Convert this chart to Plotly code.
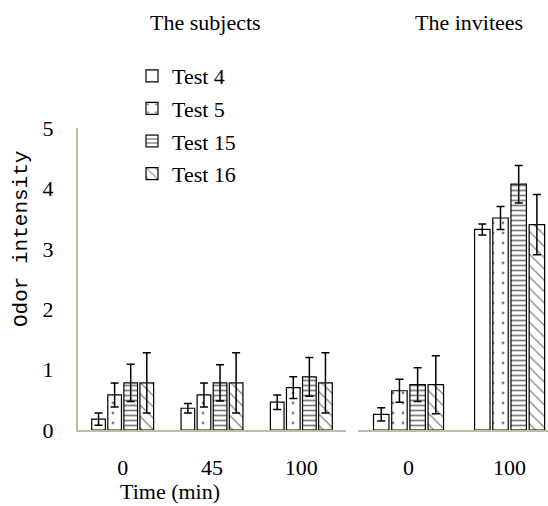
import plotly.graph_objects as go

tests = ["Test 4", "Test 5", "Test 15", "Test 16"]
left_times = ["0", "45", "100"]
right_times = ["0", "100"]

# mean values (left panel: the subjects)
left_vals = {
    "Test 4": [0.18, 0.36, 0.46],
    "Test 5": [0.58, 0.58, 0.70],
    "Test 15": [0.78, 0.78, 0.88],
    "Test 16": [0.78, 0.78, 0.78],
}
left_err = {
    "Test 4": [0.10, 0.08, 0.12],
    "Test 5": [0.20, 0.20, 0.18],
    "Test 15": [0.31, 0.30, 0.32],
    "Test 16": [0.50, 0.50, 0.50],
}
# right panel: the invitees
right_vals = {
    "Test 4": [0.26, 3.32],
    "Test 5": [0.65, 3.51],
    "Test 15": [0.75, 4.07],
    "Test 16": [0.75, 3.40],
}
right_err = {
    "Test 4": [0.11, 0.09],
    "Test 5": [0.19, 0.19],
    "Test 15": [0.28, 0.31],
    "Test 16": [0.48, 0.50],
}
y_ticks = [0, 1, 2, 3, 4, 5]

patterns = {
    "Test 4": dict(shape=""),
    "Test 5": dict(shape=".", size=10, solidity=0.06, fgcolor="black", bgcolor="white"),
    "Test 15": dict(shape="-", size=5, solidity=0.35, fgcolor="black", bgcolor="white"),
    "Test 16": dict(shape="\\", size=8, solidity=0.15, fgcolor="black", bgcolor="white"),
}

SERIF = "Liberation Serif"
FS = 22
AX = "#c2bc9c"

fig = go.Figure()
for t in tests:
    fig.add_trace(go.Bar(
        x=left_times, y=left_vals[t], name=t, xaxis="x", yaxis="y",
        marker=dict(color="white", line=dict(color="black", width=1.2), pattern=patterns[t]),
        error_y=dict(type="data", array=left_err[t], color="black", thickness=1.5, width=4),
        legendgroup=t, showlegend=True,
    ))
for t in tests:
    fig.add_trace(go.Bar(
        x=right_times, y=right_vals[t], name=t, xaxis="x2", yaxis="y2",
        marker=dict(color="white", line=dict(color="black", width=1.2), pattern=patterns[t]),
        error_y=dict(type="data", array=right_err[t], color="black", thickness=1.5, width=4),
        legendgroup=t, showlegend=False,
    ))

W, H = 548, 506
L, R, T, B = 78, 0, 128, 76
pw = W - L - R
ph = H - T - B

def px(x):
    return (x - L) / pw

def py(y):
    return 1 - (y - T) / ph

fig.update_layout(
    width=W, height=H,
    margin=dict(l=L, r=R, t=T, b=B),
    paper_bgcolor="white", plot_bgcolor="white",
    barmode="group", bargap=0.28, bargroupgap=0.15,
    font=dict(family=SERIF, size=FS, color="black"),
    showlegend=True,
    legend=dict(x=px(132), y=py(55), xanchor="left", yanchor="top",
                bgcolor="rgba(0,0,0,0)", font=dict(family=SERIF, size=FS),
                tracegroupgap=1, itemwidth=30),
    xaxis=dict(domain=[0, px(346)], type="category", range=[-0.5, 2.5],
               showline=True, linecolor=AX, linewidth=2, ticks="", showgrid=False,
               ticklabelstandoff=17, tickfont=dict(family=SERIF, size=FS),
               zeroline=False),
    yaxis=dict(range=[0, 5], tickvals=y_ticks, showline=True, linecolor=AX, linewidth=2,
               ticks="", showgrid=False, zeroline=False, ticklabelstandoff=18,
               tickfont=dict(family=SERIF, size=FS)),
    xaxis2=dict(domain=[px(358), 1], type="category", range=[-0.5, 1.38], anchor="y2",
                showline=True, linecolor=AX, linewidth=2, ticks="", showgrid=False,
                ticklabelstandoff=17, tickfont=dict(family=SERIF, size=FS), zeroline=False),
    yaxis2=dict(range=[0, 5], anchor="x2", showline=False, showticklabels=False,
                ticks="", showgrid=False, zeroline=False),
)

def note(text, x, y, **kw):
    fig.add_annotation(text=text, x=px(x), y=py(y), xref="paper", yref="paper",
                       xanchor="center", yanchor="middle", showarrow=False, **kw)

note("The subjects", 205, 22, font=dict(family=SERIF, size=FS))
note("The invitees", 469, 22, font=dict(family=SERIF, size=FS))
note("Time (min)", 170, 491, font=dict(family=SERIF, size=FS))
note("Odor intensity", 21, 239, textangle=-90, font=dict(family="Liberation Mono", size=21))

fig.write_html("out.html")
